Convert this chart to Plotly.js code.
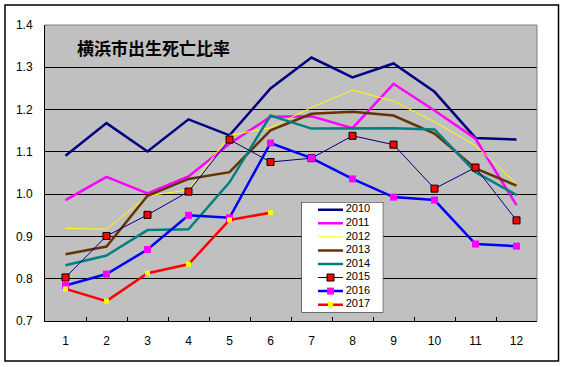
<!DOCTYPE html>
<html>
<head>
<meta charset="utf-8">
<script src="https://cdn.plot.ly/plotly-3.0.1.min.js"></script>
<style>html,body{margin:0;padding:0;background:#fff;}#chart{width:565px;height:367px;}</style>
</head>
<body>
<div id="chart"></div>
<script>
var months = [1,2,3,4,5,6,7,8,9,10,11,12];
var monthLabels = ['1','2','3','4','5','6','7','8','9','10','11','12'];
var seriesNames = ['2010','2011','2012','2013','2014','2015','2016','2017'];

var y2010 = [1.091,1.168,1.101,1.177,1.139,1.250,1.323,1.276,1.309,1.242,1.133,1.129];
var y2011 = [0.986,1.041,1.002,1.042,1.119,1.183,1.184,1.156,1.261,1.198,1.131,0.974];
var y2012 = [0.919,0.917,0.996,1.010,1.139,1.157,1.205,1.246,1.220,1.171,1.115,1.024];
var y2013 = [0.858,0.876,0.996,1.036,1.052,1.151,1.190,1.195,1.186,1.143,1.061,1.020];
var y2014 = [0.832,0.855,0.915,0.917,1.028,1.186,1.155,1.155,1.156,1.153,1.052,0.998];
var y2015 = [0.803,0.901,0.951,1.006,1.129,1.076,1.085,1.138,1.117,1.013,1.063,0.938];
var y2016 = [0.784,0.811,0.869,0.950,0.944,1.121,1.085,1.036,0.993,0.986,0.882,0.877];
var y2017 = [0.776,0.747,0.813,0.834,0.939,0.956];

var seriesValues = [y2010,y2011,y2012,y2013,y2014,y2015,y2016,y2017];

var styles = [
  {line:{color:'#000080',width:2.5}},
  {line:{color:'#FF00FF',width:2.5}},
  {line:{color:'#FFFF00',width:1}},
  {line:{color:'#663300',width:2.5}},
  {line:{color:'#008080',width:2.5}},
  {line:{color:'#000080',width:1}, marker:{symbol:'square',size:7,color:'#FF0000',line:{color:'#000000',width:1}}},
  {line:{color:'#0000FF',width:2.5}, marker:{symbol:'square',size:7,color:'#FF00FF',line:{width:0}}},
  {line:{color:'#FF0000',width:2.5}, marker:{symbol:'square',size:5,color:'#FFFF00',line:{width:0}}}
];

var traces = [];
seriesValues.forEach(function(vals,i){
  var t = {
    x: months.slice(0, vals.length),
    y: vals,
    type:'scatter',
    mode: styles[i].marker ? 'lines+markers' : 'lines',
    line: styles[i].line,
    name: seriesNames[i],
    hoverinfo:'skip',
    cliponaxis:false
  };
  if (styles[i].marker) t.marker = styles[i].marker;
  traces.push(t);
});

// category boundary tick marks axis helper
traces.push({x:[0.5,12.5], y:[0.7,0.7], xaxis:'x2', yaxis:'y', type:'scatter', mode:'lines',
  line:{width:0,color:'rgba(0,0,0,0)'}, hoverinfo:'skip'});

// custom legend drawn on its own hidden axes
var legTop = -0.57, legBot = 7.58;
traces.push({x:[0,1,1,0,0], y:[legTop,legTop,legBot,legBot,legTop], xaxis:'x3', yaxis:'y3',
  type:'scatter', mode:'lines', fill:'toself', fillcolor:'#FFFFFF',
  line:{color:'#000',width:1}, hoverinfo:'skip', cliponaxis:false});
seriesNames.forEach(function(n,i){
  traces.push({x:[0.202,0.507], y:[i,i], xaxis:'x3', yaxis:'y3', type:'scatter', mode:'lines',
    line: styles[i].line, hoverinfo:'skip'});
  if (styles[i].marker) {
    traces.push({x:[0.355], y:[i], xaxis:'x3', yaxis:'y3', type:'scatter', mode:'markers',
      marker: styles[i].marker, hoverinfo:'skip', cliponaxis:false});
  }
});
traces.push({x:seriesNames.map(function(){return 0.54;}), y:seriesNames.map(function(n,i){return i;}),
  text:seriesNames, xaxis:'x3', yaxis:'y3', type:'scatter', mode:'text', textposition:'middle right',
  textfont:{family:'Liberation Sans, Arial, sans-serif', size:11, color:'#000'}, hoverinfo:'skip', cliponaxis:false});

var fontF = 'Liberation Sans, Arial, sans-serif';
var layout = {
  width:565, height:367,
  margin:{l:45, r:28, t:25, b:46, pad:0},
  paper_bgcolor:'#FFFFFF',
  plot_bgcolor:'#C0C0C0',
  showlegend:false,
  font:{family:fontF, size:12, color:'#000'},
  xaxis:{
    range:[0.5,12.5], tickmode:'array', tickvals:months, ticktext:monthLabels,
    showgrid:false, zeroline:false, showline:true, linecolor:'#000', linewidth:1,
    ticks:'outside', ticklen:9, tickcolor:'rgba(0,0,0,0)',
    tickfont:{family:fontF, size:12, color:'#000'}, fixedrange:true
  },
  xaxis2:{
    overlaying:'x', anchor:'y', range:[0.5,12.5], tickmode:'array',
    tickvals:months.map(function(m){return m+0.5;}).slice(0,11),
    ticks:'inside', ticklen:4, tickcolor:'#000', tickwidth:1, showticklabels:false,
    showgrid:false, zeroline:false, showline:false, fixedrange:true
  },
  yaxis:{
    range:[0.7,1.4], dtick:0.1, tick0:0.7, tickformat:'.1f',
    showgrid:true, gridcolor:'#000', gridwidth:1, zeroline:false,
    showline:true, linecolor:'#000', linewidth:1,
    ticks:'outside', ticklen:9, tickcolor:'rgba(0,0,0,0)',
    tickfont:{family:fontF, size:12, color:'#000'}, fixedrange:true
  },
  xaxis3:{domain:[0.5213,0.6876], anchor:'y3', range:[0,1], visible:false, fixedrange:true},
  yaxis3:{domain:[0.0287,0.402], anchor:'x3', range:[legBot,legTop], visible:false, fixedrange:true},
  shapes:[
    {type:'line', xref:'paper', yref:'paper', x0:0, x1:1, y0:1, y1:1,
      line:{color:'#808080', width:1}, layer:'above'},
    {type:'line', xref:'paper', yref:'paper', x0:1, x1:1, y0:0, y1:1,
      line:{color:'#808080', width:1}, layer:'above'},
    {type:'rect', xref:'paper', yref:'paper', x0:-0.0813, x1:1.0437, y0:-0.135, y1:1.0676,
      line:{color:'#000', width:1.5}, fillcolor:'rgba(0,0,0,0)'}
  ],
  annotations:[
    {text:'<b>横浜市出生死亡比率</b>', xref:'paper', yref:'paper', x:0.061, y:0.925,
      xanchor:'left', yanchor:'middle', showarrow:false,
      font:{family:'Noto Sans CJK JP, sans-serif', size:17, color:'#000'}}
  ]
};

Plotly.newPlot('chart', traces, layout, {staticPlot:true, displayModeBar:false});
</script>
</body>
</html>
